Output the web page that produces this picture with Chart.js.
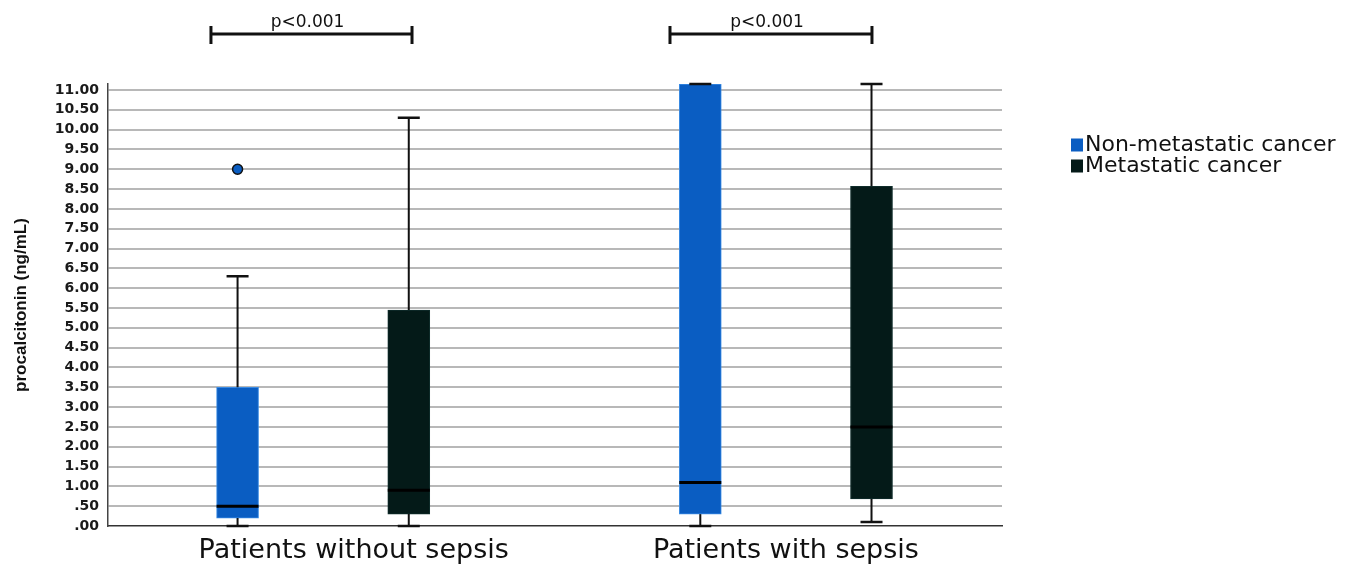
<!DOCTYPE html>
<html>
<head>
<meta charset="utf-8">
<script src="https://cdn.jsdelivr.net/npm/chart.js@4.4.1/dist/chart.umd.min.js"></script>
<style>
  html, body { margin: 0; padding: 0; background: #fff; }
  #wrap { width: 1345px; height: 565px; }
</style>
</head>
<body>
<div id="wrap"><canvas id="pctChart" width="1345" height="565"></canvas></div>
<script>
// groups on the x axis and the two series
const groups = ['Patients without sepsis', 'Patients with sepsis'];
const seriesNames = ['Non-metastatic cancer', 'Metastatic cancer'];

// box plot statistics (ng/mL)
const nonMetMin = [0.0, 0.0];
const nonMetQ1 = [0.2, 0.3];
const nonMetMedian = [0.5, 1.1];
const nonMetQ3 = [3.5, 11.15];
const nonMetMax = [6.3, 11.15];
const nonMetOutliers = [[9.0], []];

const metMin = [0.0, 0.1];
const metQ1 = [0.3, 0.68];
const metMedian = [0.9, 2.5];
const metQ3 = [5.45, 8.57];
const metMax = [10.3, 11.15];
const metOutliers = [[], []];

const yTickValues = [0, 0.5, 1, 1.5, 2, 2.5, 3, 3.5, 4, 4.5, 5, 5.5, 6, 6.5, 7, 7.5, 8, 8.5, 9, 9.5, 10, 10.5, 11];
const pValues = ['p<0.001', 'p<0.001'];

// layout helpers (x axis is in "group" units, group i sits at i + 1)
const boxOffset = 0.185;
const xLabelPos = [1.066, 2.0];
const bracketFrom = [0.7575, 1.7495];
const bracketTo = [1.192, 2.186];

const series = [
    { label: seriesNames[0], min: nonMetMin, q1: nonMetQ1, med: nonMetMedian, q3: nonMetQ3, max: nonMetMax,
      out: nonMetOutliers, fill: '#0a5dc2', edge: '#3a8be4', shift: -boxOffset },
    { label: seriesNames[1], min: metMin, q1: metQ1, med: metMedian, q3: metQ3, max: metMax,
      out: metOutliers, fill: '#041a18', edge: '#0f2d2b', shift: boxOffset }
];

const datasets = series.map(function (s) {
    return {
        type: 'bar',
        label: s.label,
        data: groups.map(function (g, i) { return { x: i + 1 + s.shift, y: [s.q1[i], s.q3[i]] }; }),
        backgroundColor: s.fill,
        borderColor: s.edge,
        borderWidth: 1,
        borderSkipped: false,
        barThickness: 42,
        grouped: false
    };
});

const outlierPoints = [];
series.forEach(function (s) {
    s.out.forEach(function (vals, i) {
        vals.forEach(function (v) { outlierPoints.push({ x: i + 1 + s.shift, y: v }); });
    });
});
datasets.push({
    type: 'scatter',
    label: 'outliers',
    data: outlierPoints,
    pointStyle: 'circle',
    pointRadius: 5,
    backgroundColor: series[0].fill,
    borderColor: '#111',
    borderWidth: 1.5
});

const boxWhiskers = {
    id: 'boxWhiskers',
    afterDatasetsDraw: function (chart) {
        const ctx = chart.ctx;
        const xs = chart.scales.x;
        const ys = chart.scales.y;
        ctx.save();
        series.forEach(function (s) {
            groups.forEach(function (g, i) {
                const cx = xs.getPixelForValue(i + 1 + s.shift);
                const yMin = ys.getPixelForValue(s.min[i]);
                const yQ1 = ys.getPixelForValue(s.q1[i]);
                const yQ3 = ys.getPixelForValue(s.q3[i]);
                const yMax = ys.getPixelForValue(s.max[i]);
                const yMed = ys.getPixelForValue(s.med[i]);
                ctx.strokeStyle = '#111';
                ctx.lineWidth = 2;
                ctx.beginPath();
                ctx.moveTo(cx, yQ3); ctx.lineTo(cx, yMax);
                ctx.moveTo(cx, yQ1); ctx.lineTo(cx, yMin);
                ctx.stroke();
                ctx.lineWidth = 2.5;
                ctx.beginPath();
                ctx.moveTo(cx - 11, yMax); ctx.lineTo(cx + 11, yMax);
                ctx.moveTo(cx - 11, yMin); ctx.lineTo(cx + 11, yMin);
                ctx.stroke();
                ctx.lineWidth = 3;
                ctx.strokeStyle = '#000';
                ctx.beginPath();
                ctx.moveTo(cx - 21, yMed); ctx.lineTo(cx + 21, yMed);
                ctx.stroke();
            });
        });
        ctx.restore();
    },
    afterDraw: function (chart) {
        const ctx = chart.ctx;
        const xs = chart.scales.x;
        ctx.save();
        // significance brackets
        ctx.strokeStyle = '#111';
        ctx.fillStyle = '#111';
        ctx.lineWidth = 3;
        pValues.forEach(function (p, i) {
            const x0 = xs.getPixelForValue(bracketFrom[i]);
            const x1 = xs.getPixelForValue(bracketTo[i]);
            ctx.beginPath();
            ctx.moveTo(x0, 34); ctx.lineTo(x1, 34);
            ctx.moveTo(x0, 26); ctx.lineTo(x0, 44);
            ctx.moveTo(x1, 26); ctx.lineTo(x1, 44);
            ctx.stroke();
            ctx.font = '17px "DejaVu Sans"';
            ctx.textAlign = 'center';
            ctx.textBaseline = 'alphabetic';
            ctx.fillText(p, (x0 + x1) / 2 - 4, 27);
        });
        // legend
        ctx.font = '22px "DejaVu Sans"';
        ctx.textAlign = 'left';
        ctx.textBaseline = 'middle';
        series.forEach(function (s, k) {
            const cy = 145 + k * 21;
            ctx.fillStyle = s.fill;
            ctx.fillRect(1071, cy - 6.5, 12, 13);
            ctx.fillStyle = '#111';
            ctx.fillText(s.label, 1085, cy);
        });
        ctx.restore();
    }
};

const chart = new Chart(document.getElementById('pctChart').getContext('2d'), {
    type: 'bar',
    data: { datasets: datasets },
    options: {
        responsive: false,
        animation: false,
        layout: { padding: { top: 84, right: 343, bottom: 0, left: 0 } },
        plugins: {
            legend: { display: false },
            tooltip: { enabled: false }
        },
        scales: {
            x: {
                type: 'linear',
                min: 0.535,
                max: 2.467,
                offset: false,
                afterBuildTicks: function (scale) {
                    scale.ticks = xLabelPos.map(function (v) { return { value: v }; });
                },
                afterFit: function (scale) { scale.height = 39; },
                grid: { display: false, drawTicks: false, offset: false },
                border: { display: true, color: '#333', width: 1.5 },
                ticks: {
                    padding: 9,
                    color: '#111',
                    font: { family: 'DejaVu Sans', size: 27 },
                    maxRotation: 0,
                    callback: function (value, index) { return groups[index]; }
                }
            },
            y: {
                type: 'linear',
                min: 0,
                max: 11.15,
                afterBuildTicks: function (scale) {
                    scale.ticks = yTickValues.map(function (v) { return { value: v }; });
                },
                afterFit: function (scale) { scale.width = 108; },
                grid: {
                    drawTicks: false,
                    lineWidth: 2,
                    color: function (c) { return c.tick && c.tick.value === 0 ? 'rgba(0,0,0,0)' : '#b8b8b8'; }
                },
                border: { display: true, color: '#444', width: 1.5 },
                ticks: {
                    padding: 9,
                    color: '#1a1a1a',
                    font: { family: 'DejaVu Sans', weight: 'bold', size: 14 },
                    callback: function (v) {
                        const t = Number(v).toFixed(2);
                        return v < 1 ? t.replace(/^0/, '') : t;
                    }
                },
                title: {
                    display: true,
                    text: 'procalcitonin (ng/mL)',
                    color: '#111',
                    font: { family: 'Liberation Sans', weight: 'bold', size: 17 },
                    padding: { top: 11, bottom: 0 }
                }
            }
        }
    },
    plugins: [boxWhiskers]
});
</script>
</body>
</html>
